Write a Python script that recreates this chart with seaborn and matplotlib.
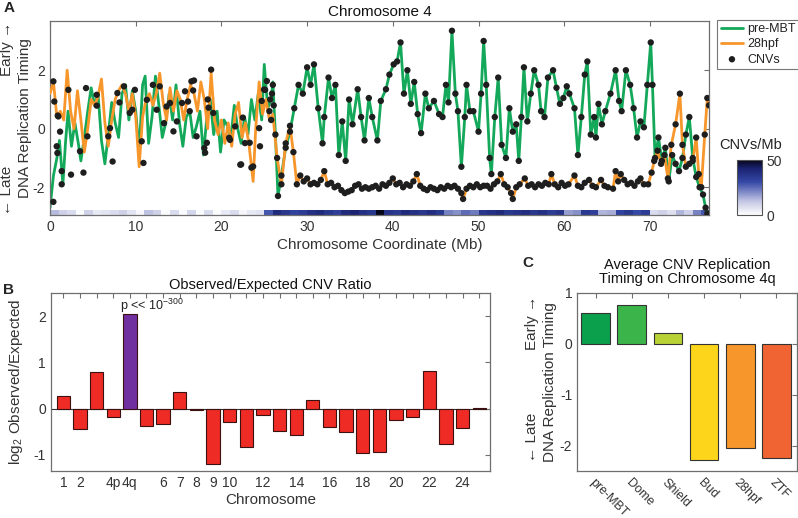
import numpy as np
import pandas as pd
import matplotlib
matplotlib.use("Agg")
import matplotlib.pyplot as plt
import matplotlib.transforms as mtransforms
from matplotlib.colors import LinearSegmentedColormap
import seaborn as sns

# ---------------- data: panel A ----------------
premtb_pos = [0.0, 0.4, 0.8, 1.1, 1.5, 1.8, 2.1, 2.5, 2.9, 3.3, 3.6, 4.0, 4.4, 4.8, 5.2, 5.6, 6.0, 6.4, 6.8, 7.2,
              7.6, 8.0, 8.4, 8.8, 9.2, 9.6, 10.0, 10.4, 10.8, 11.1, 11.5, 11.9, 12.3, 12.7, 13.1, 13.5, 13.9, 14.3,
              14.7, 15.1, 15.5, 15.9, 16.3, 16.7, 17.1, 17.5, 17.9, 18.3, 18.7, 19.1, 19.5, 19.9, 20.3, 20.7, 21.1,
              21.5, 21.9, 22.3, 22.7, 23.1, 23.5, 23.9, 24.3, 24.7, 25.0, 25.4, 25.8, 26.0, 26.3, 26.6, 27.0, 27.5,
              28.0, 28.5, 29.0, 29.5, 30.0, 30.4, 30.8, 31.3, 31.8, 32.0, 32.5, 32.9, 33.3, 33.7, 34.1, 34.5, 34.9,
              35.3, 35.9, 36.3, 36.7, 37.2, 37.6, 38.2, 38.6, 39.2, 39.6, 40.1, 40.5, 40.9, 41.3, 41.7, 42.1, 42.5,
              42.9, 43.3, 43.8, 44.2, 44.8, 45.4, 45.8, 46.2, 46.5, 46.9, 47.3, 47.6, 48.0, 48.4, 48.6, 49.0, 49.4,
              50.0, 50.3, 50.6, 50.9, 51.3, 51.5, 51.9, 52.3, 52.7, 53.2, 53.6, 54.0, 54.4, 54.7, 55.0, 55.3, 55.7,
              56.1, 56.5, 57.0, 57.3, 57.7, 58.1, 58.7, 59.1, 59.5, 59.9, 60.3, 60.6, 61.2, 61.6, 62.0, 62.4, 62.7,
              63.1, 63.5, 63.7, 64.0, 64.4, 64.8, 65.4, 66.0, 66.4, 66.7, 67.2, 67.7, 68.1, 68.5, 68.9, 69.3, 69.7,
              70.1, 70.3, 70.6, 71.0, 71.4, 71.8, 72.2, 72.6, 73.0, 73.4, 73.8, 74.2, 74.6, 75.0, 75.4, 75.8, 76.2,
              76.5, 76.7]
premtb_val = [-2.7, -1.6, -1.0, -0.4, -1.9, -0.5, 0.6, -0.6, 0.2, -0.5, -1.1, -0.3, 0.6, 1.4, 0.8, 1.2, -0.4, -1.2,
              -0.2, 0.9, 0.2, -0.3, 1.2, 1.5, 0.3, 1.3, 0.6, -0.8, 1.5, 1.8, -0.5, 0.4, 1.8, 0.8, -0.3, 0.2, 1.2, 0.3,
              1.5, 0.2, -0.6, 0.4, 0.6, -0.3, 0.1, 0.6, -0.9, 0.4, 1.0, -0.2, 0.6, -0.8, 0.3, 0.1, -0.3, 0.8, 0.0,
              -0.5, 0.4, -0.2, 1.0, 0.3, 1.2, 0.3, 2.2, 0.7, 1.0, 1.6, -0.2, -2.3, -1.6, -0.65, -0.1, 0.7, 1.5, 1.2,
              2.1, 1.5, 2.2, 0.7, -0.5, 0.4, 1.75, 1.05, 1.5, -0.9, 0.25, -1.1, 1.0, 0.15, 1.35, 0.4, -0.4, 1.05,
              0.4, -0.4, 0.95, 1.35, 1.85, 2.2, 2.3, 2.95, 1.2, 2.0, 0.85, 1.6, 0.5, -0.15, 1.2, 0.7, 0.95, 0.5, 0.4,
              1.5, 0.9, 3.35, 1.2, 0.6, -1.3, 0.4, 1.5, 0.6, 0.6, -0.1, 1.2, 3.0, 1.5, -1.0, -1.55, 0.4, 1.75, -0.55,
              -1.0, 0.7, -0.1, 0.15, -1.1, 0.4, 2.1, 0.25, 1.2, 2.0, 1.5, 0.6, 0.4, 1.75, 2.0, 1.4, 0.85, 1.05, 1.45,
              1.2, 0.7, -0.9, 0.4, 1.85, 2.3, -0.2, 0.4, -0.3, 0.85, 0.15, 0.6, 1.2, 2.0, 0.95, 0.6, 2.0, 1.5, 0.7,
              -0.3, 0.25, 0.05, 1.5, 2.95, 1.5, -1.0, -0.3, -1.1, -0.65, -1.8, -0.9, -1.2, -1.45, -1.0, -0.2, 0.4,
              -1.0, -1.65, -2.0, -2.25, -2.7, -2.9]

hpf28_pos = [0.0, 0.4, 0.8, 1.2, 1.6, 2.0, 2.4, 2.8, 3.2, 3.6, 4.0, 4.4, 4.8, 5.2, 5.6, 6.0, 6.4, 6.8, 7.2, 7.6,
             8.0, 8.4, 8.8, 9.2, 9.6, 10.0, 10.4, 10.8, 11.2, 11.6, 12.0, 12.4, 12.8, 13.2, 13.6, 14.0, 14.4, 14.8,
             15.2, 15.6, 16.0, 16.4, 16.8, 17.2, 17.6, 18.0, 18.4, 18.8, 19.2, 19.6, 20.0, 20.4, 20.8, 21.2, 21.6,
             22.0, 22.4, 22.8, 23.2, 23.7, 24.0, 24.4, 24.8, 25.2, 25.6, 26.0, 26.5, 27.0, 27.5, 28.0, 28.4, 28.8,
             29.2, 29.6, 30.0, 30.4, 30.8, 31.2, 31.6, 32.0, 32.4, 32.8, 33.2, 33.6, 34.0, 34.4, 34.8, 35.2, 35.6,
             36.0, 36.4, 36.8, 37.2, 37.6, 38.0, 38.4, 38.8, 39.2, 39.6, 40.0, 40.4, 40.8, 41.2, 41.6, 42.0, 42.4,
             42.8, 43.2, 43.6, 44.0, 44.4, 44.8, 45.2, 45.6, 46.0, 46.4, 46.8, 47.2, 47.6, 48.0, 48.2, 48.6, 49.0,
             49.4, 49.8, 50.2, 50.6, 51.0, 51.4, 51.8, 52.2, 52.6, 53.0, 53.4, 53.8, 54.0, 54.4, 54.8, 55.4, 55.8,
             56.2, 56.6, 57.0, 57.4, 57.8, 58.2, 58.5, 58.9, 59.3, 59.7, 60.1, 60.5, 61.2, 61.6, 62.0, 62.4, 62.9,
             63.3, 63.7, 64.3, 64.7, 65.1, 65.7, 66.0, 66.3, 66.6, 67.0, 67.4, 67.8, 68.2, 68.6, 68.9, 69.3, 69.8,
             70.2, 70.5, 70.9, 71.3, 71.7, 72.1, 72.5, 73.0, 73.5, 73.8, 74.2, 74.6, 75.0, 75.4, 75.7, 76.0, 76.4,
             76.7, 76.9]
hpf28_val = [1.2, 1.6, 0.4, 0.6, 0.3, 2.0, 0.6, 0.0, 1.3, 0.3, -0.8, 0.0, 1.0, 0.8, 1.1, 1.7, 0.2, -0.6, 0.3, 1.0,
             1.3, 1.5, 1.2, 0.6, 1.2, 0.4, -1.3, 0.4, 1.0, 1.2, 0.8, 1.2, 1.9, 0.9, 0.3, 1.4, 0.6, 1.3, 1.0, 0.3,
             1.0, 1.5, 1.2, 0.6, 1.6, 1.0, 0.0, 1.9, 0.3, -0.2, 0.3, -0.5, 0.2, -0.6, 0.5, 0.9, -0.3, 0.2, -0.5,
             -1.8, 0.0, 1.6, 0.5, 1.0, 0.3, 0.5, -1.0, -1.9, -0.5, 0.1, -0.8, -1.9, -1.6, -1.8, -1.7, -1.9, -1.85,
             -1.9, -1.75, -1.45, -1.9, -1.85, -2.0, -1.95, -2.1, -2.2, -2.15, -2.1, -1.95, -1.9, -2.05, -2.0, -2.05,
             -2.0, -1.95, -2.05, -1.9, -1.95, -1.85, -1.7, -1.9, -1.85, -2.0, -1.9, -1.95, -1.8, -1.55, -1.95, -2.05,
             -2.1, -2.0, -2.05, -2.1, -2.0, -2.05, -1.95, -2.0, -1.95, -2.05, -2.2, -2.4, -2.05, -1.95, -2.0, -1.9,
             -2.0, -1.95, -1.95, -2.05, -1.9, -1.8, -1.55, -1.9, -2.0, -2.2, -2.4, -2.0, -1.9, -1.7, -1.95, -1.9,
             -2.0, -1.9, -1.95, -1.85, -1.9, -1.55, -1.9, -2.0, -1.85, -1.95, -1.9, -1.6, -1.95, -2.0, -1.85, -1.75,
             -1.95, -2.0, -1.75, -1.95, -2.0, -2.05, -1.45, -1.8, -1.55, -1.75, -1.9, -1.85, -1.95, -1.8, -1.7,
             -1.9, -1.9, -1.5, -1.1, -0.75, -1.2, -0.9, -1.7, -0.55, 0.15, 1.2, -0.55, -1.3, -1.2, -1.1, -0.3, -1.55,
             -2.0, -0.2, 1.05, 0.8]

# sparse CNVs in the first 26 Mb
cnv_pos = [0.39, 0.5, 0.9, 0.97, 1.17, 0.78, 0.86, 1.36, 1.36, 0.39, 2.14, 2.45, 3.5, 3.9, 4.2, 4.36, 5.45, 5.45,
           6.8, 7.0, 7.3, 7.86, 8.1, 8.63, 9.3, 9.6, 9.9, 10.7, 10.9, 11.3, 12.0, 12.45, 12.8, 13.3, 13.6, 14.0,
           14.4, 14.8, 15.4, 15.75, 16.1, 16.3, 16.5, 16.7, 16.8, 17.1, 18.0, 18.1, 18.3, 18.4, 18.5, 18.8, 19.05,
           20.9, 21.0, 21.6, 22.2, 22.3, 22.5, 22.75, 23.3, 23.5, 23.7, 24.4, 24.5, 24.7, 24.97, 25.1, 25.3, 25.6,
           25.7, 25.8, 25.9, 26.0, 26.1]
cnv_val = [1.62, 0.93, 0.45, 0.42, -0.1, -0.6, -0.83, -1.9, -1.45, -2.5, 1.33, -1.57, -0.77, -1.5, 1.39, -0.26,
           1.16, 0.79, -0.26, 0.02, -1.12, 1.22, 0.9, 1.45, 0.54, 0.65, 1.33, -0.43, -1.17, 0.99, 1.5, 0.65, 1.45,
           0.19, 0.76, 0.88, -0.09, 0.25, 0.88, 1.28, 0.93, 0.6, 1.62, 1.31, 1.65, -0.26, -0.66, -0.82, -0.48,
           1.0, 0.72, 2.02, 0.54, -0.31, -0.38, 0.08, -1.23, -1.22, 0.38, -0.49, -0.48, -1.33, -1.29, 0.02, -0.6,
           0.95, 1.34, 1.33, 1.63, 0.6, 1.0, 0.3, 1.2, 1.5, 0.8]
cnv_dense_from = 26.2   # beyond this CNVs lie along both timing profiles

density_per_mb = [14, 10, 8, 1, 10, 5, 6, 8, 10, 6, 2, 13, 10, 1, 8, 1, 9, 1, 8, 1, 5, 8, 2, 5, 6, 28,
                  40, 36, 32, 34, 38, 40, 36, 33, 40, 42, 38, 36, 50, 37, 35, 40, 38, 36, 39, 35, 22, 20,
                  25, 23, 36, 38, 40, 35, 37, 39, 36, 38, 34, 37, 18, 20, 35, 33, 15, 16, 32, 35, 30, 34,
                  8, 10, 7, 15, 10, 22, 28]

# ---------------- data: panel B ----------------
chrom_names = ["1", "2", "3", "4p", "4q", "5", "6", "7", "8", "9", "10", "11", "12", "13", "14", "15", "16",
               "17", "18", "19", "20", "21", "22", "23", "24", "25"]
chrom_ratio = [0.28, -0.45, 0.79, -0.19, 2.04, -0.37, -0.33, 0.35, -0.04, -1.19, -0.29, -0.82, -0.14, -0.48,
               -0.58, 0.19, -0.39, -0.51, -0.95, -0.94, -0.25, -0.18, 0.82, -0.77, -0.41, 0.02]
chrom_shown = ["1", "2", "4p", "4q", "6", "7", "8", "9", "10", "12", "14", "16", "18", "20", "22", "24"]

# ---------------- data: panel C ----------------
stages = ["pre-MBT", "Dome", "Shield", "Bud", "28hpf", "ZTF"]
stage_timing = [0.60, 0.76, 0.22, -2.29, -2.04, -2.24]
stage_colors = ["#0aa04c", "#3bb54a", "#b8d236", "#fdd51a", "#f7962a", "#ef6432"]

GREEN = "#13a85a"
ORANGE = "#f7962b"
RED = "#ee2b24"
PURPLE = "#7030a0"

# ---------------- style ----------------
sns.set_theme(style="white")
plt.rcParams["font.family"] = ["Liberation Sans", "DejaVu Sans"]
plt.rcParams["mathtext.fontset"] = "custom"
plt.rcParams["mathtext.rm"] = "Liberation Sans"
plt.rcParams["mathtext.it"] = "Liberation Sans"
plt.rcParams["axes.unicode_minus"] = False

TICKC = "#333333"
SPINEC = "#6f6f6f"
LABC = "#333333"


def style_axes(ax):
    for s in ax.spines.values():
        s.set_color(SPINEC)
        s.set_linewidth(0.9)
        s.set_visible(True)
    ax.tick_params(direction="in", top=True, right=True, length=3.5, width=0.8,
                   color=SPINEC, labelcolor=TICKC, labelsize=10)


fig = plt.figure(figsize=(7.98, 5.18), dpi=100)

# ================= Panel A =================
axA = fig.add_axes([0.0627, 0.5849, 0.8258, 0.3755])
dfg = pd.DataFrame({"Mb": premtb_pos, "t": premtb_val})
dfo = pd.DataFrame({"Mb": hpf28_pos, "t": hpf28_val})
sns.lineplot(data=dfg, x="Mb", y="t", ax=axA, color=GREEN, lw=2.0, estimator=None, sort=False,
             label="pre-MBT", zorder=2)
sns.lineplot(data=dfo, x="Mb", y="t", ax=axA, color=ORANGE, lw=2.0, estimator=None, sort=False,
             label="28hpf", zorder=3)

dense = pd.concat([dfg[dfg.Mb >= cnv_dense_from], dfo[dfo.Mb >= cnv_dense_from]])
cnv = pd.concat([pd.DataFrame({"Mb": cnv_pos, "t": cnv_val}), dense])
sns.scatterplot(data=cnv, x="Mb", y="t", ax=axA, color="#1e1e1e", s=21, edgecolor="none",
                label="CNVs", zorder=4)

cmap = LinearSegmentedColormap.from_list(
    "cnv", [(0, "#ffffff"), (0.25, "#c3c6e4"), (0.6, "#3548a6"), (0.85, "#1b2270"), (1.0, "#05051a")])
edges = np.arange(len(density_per_mb) + 1)
mesh = axA.pcolormesh(edges, [-2.95, -2.78], np.array([density_per_mb]), cmap=cmap, vmin=0, vmax=50,
                      shading="flat", zorder=1)

axA.set_xlim(0, 76.9)
axA.set_ylim(-2.95, 3.7)
axA.set_xticks(np.arange(0, 71, 10))
axA.set_yticks([-2, 0, 2])
style_axes(axA)
axA.set_xlabel("Chromosome Coordinate (Mb)", fontsize=11, color=LABC, labelpad=3)
axA.set_ylabel("DNA Replication Timing", fontsize=11, color=LABC)
axA.yaxis.set_label_coords(-0.027, 0.5)
axA.set_title("Chromosome 4", fontsize=11, color="#111111", pad=3)
fig.text(0.009, 0.633, "\u2190 Late", rotation=90, fontsize=11, color=LABC, ha="center", va="center")
fig.text(0.009, 0.905, "Early \u2192", rotation=90, fontsize=11, color=LABC, ha="center", va="center")

leg = axA.legend(loc="upper left", bbox_to_anchor=(1.012, 1.005), frameon=True, fontsize=9,
                 handlelength=1.8, handletextpad=0.3, borderpad=0.3, labelspacing=0.25, fancybox=False,
                 borderaxespad=0)
leg.get_frame().set_edgecolor("#555555")
leg.get_frame().set_linewidth(0.8)
for t in leg.get_texts():
    t.set_color("#222222")

cax = fig.add_axes([0.9236, 0.5849, 0.0313, 0.106])
cb = fig.colorbar(mesh, cax=cax, ticks=[0, 50])
cb.outline.set_edgecolor("#555555")
cb.outline.set_linewidth(0.8)
cax.tick_params(labelsize=10, labelcolor=TICKC, length=0, pad=3)
fig.text(0.941, 0.72, "CNVs/Mb", fontsize=10.5, ha="center", va="center", color="#222222")

# ================= Panel B =================
axB = fig.add_axes([0.0635, 0.0907, 0.5505, 0.3437])
dfb = pd.DataFrame({"chrom": chrom_names, "ratio": chrom_ratio})
bar_cols = [PURPLE if c == "4q" else RED for c in chrom_names]
sns.barplot(data=dfb, x="chrom", y="ratio", hue="chrom", palette=bar_cols, order=chrom_names,
            hue_order=chrom_names, legend=False, ax=axB, width=0.8, edgecolor="#3a1010", linewidth=0.8,
            saturation=1)
axB.axhline(0, color="#333333", lw=0.8, zorder=0)
axB.set_xlim(-0.76, 25.65)
axB.set_ylim(-1.35, 2.5)
axB.set_xticks(range(len(chrom_names)))
axB.set_xticklabels([c if c in chrom_shown else "" for c in chrom_names])
axB.set_yticks([-1, 0, 1, 2])
style_axes(axB)
axB.set_xlabel("Chromosome", fontsize=11, color=LABC, labelpad=2)
axB.set_ylabel(r"log$_2$ Observed/Expected", fontsize=11, color=LABC)
axB.yaxis.set_label_coords(-0.058, 0.5)
axB.set_title("Observed/Expected CNV Ratio", fontsize=10.5, color="#111111", pad=3)
axB.text(3.42, 2.22, r"p << 10$^{-300}$", fontsize=9, color="#222222", ha="left", va="center")

# ================= Panel C =================
axC = fig.add_axes([0.7231, 0.0907, 0.2753, 0.3437])
dfc = pd.DataFrame({"stage": stages, "timing": stage_timing})
sns.barplot(data=dfc, x="stage", y="timing", hue="stage", palette=stage_colors, order=stages,
            hue_order=stages, legend=False, ax=axC, width=0.8, edgecolor="#333333", linewidth=0.8,
            saturation=1)
axC.set_xlim(-0.52, 5.57)
axC.set_ylim(-2.5, 1.0)
axC.set_yticks([-2, -1, 0, 1])
style_axes(axC)
axC.set_xlabel("")
axC.set_ylabel("DNA Replication Timing", fontsize=11, color=LABC)
axC.yaxis.set_label_coords(-0.091, 0.5)
axC.set_title("Average CNV Replication\nTiming on Chromosome 4q", fontsize=10.5, color="#111111",
              pad=7, linespacing=1.05)
axC.set_xticks(range(len(stages)))
axC.set_xticklabels(stages, rotation=-45, ha="left", va="top", rotation_mode="anchor", fontsize=9)
shift = mtransforms.ScaledTranslation(-3 / 100, 0, fig.dpi_scale_trans)
for lab in axC.get_xticklabels():
    lab.set_transform(lab.get_transform() + shift)
axC.tick_params(axis="x", pad=4)
fig.text(0.667, 0.156, "\u2190 Late", rotation=90, fontsize=11, color=LABC, ha="center", va="center")
fig.text(0.667, 0.376, "Early \u2192", rotation=90, fontsize=11, color=LABC, ha="center", va="center")

# panel letters
fig.text(0.004, 0.985, "A", fontsize=11, fontweight="bold", ha="left", va="center")
fig.text(0.004, 0.44, "B", fontsize=11, fontweight="bold", ha="left", va="center")
fig.text(0.654, 0.492, "C", fontsize=11, fontweight="bold", ha="left", va="center")

fig.savefig("out.png", dpi=100)
